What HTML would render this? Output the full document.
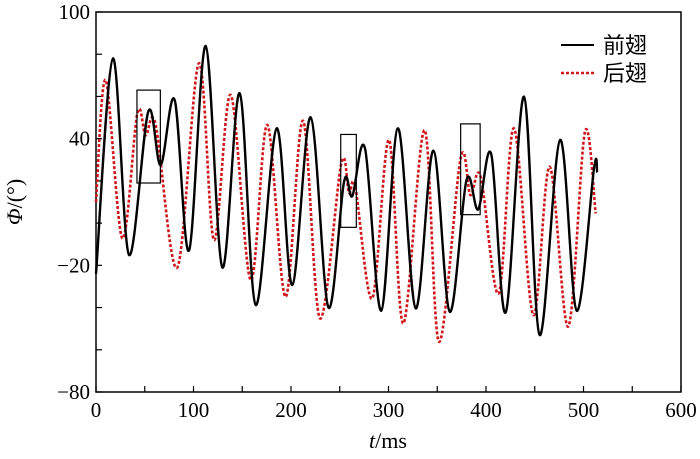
<!DOCTYPE html>
<html><head><meta charset="utf-8"><style>
body{margin:0;background:#fff;}
svg{display:block;font-family:"Liberation Serif","Noto Serif CJK SC",serif;}
</style></head><body>
<svg width="700" height="459" viewBox="0 0 700 459">
<g id="axes"></g>
<g id="series"></g>
<g id="boxes"></g>
<g>
<line x1="561" y1="45" x2="594" y2="45" stroke="#000" stroke-width="2"/>
<text x="603" y="53" font-size="22" font-family="'Noto Sans CJK SC',sans-serif">前翅</text>
<line x1="561" y1="73" x2="594" y2="73" stroke="#d0161a" stroke-width="2.5" stroke-dasharray="3,2"/>
<text x="603" y="81" font-size="22" font-family="'Noto Sans CJK SC',sans-serif">后翅</text>
</g>
<text x="388" y="448" font-size="22" text-anchor="middle"><tspan font-style="italic">t</tspan>/ms</text>
<text transform="translate(22,202) rotate(-90)" font-size="22" text-anchor="middle"><tspan font-style="italic">Φ</tspan>/(°)</text>
</svg>
<script>
const frontT=[0,17.4,33.8,53.6,66.3,80.7,95.4,112.5,129.6,147.4,163.8,185.3,201.3,220.2,238.3,254.4,262.9,275.9,292.6,309.7,327.9,346,362.8,380,392,405.4,420.2,439,455,476,493,510.8,514];
const frontV=[-24,78,-15,52.8,27.5,58.3,-13,83.9,-21,61.5,-38.8,44.9,-29.3,50.1,-39.9,19.6,12.8,35.4,-41.5,44.9,-40.4,34.3,-42,20.4,6.5,32.6,-42.3,59.9,-53,39.4,-41.5,26,24];
const hindT=[0,9.9,27,42.4,50.9,61.2,83.4,105.6,121,138.2,158.7,175.7,194.5,212.3,229.7,251.6,259.5,266,283.4,300.5,315.2,337,351.8,374,384,394.5,413,428.7,448.5,465.3,484.4,501.5,512.5];
const hindV=[10,67.8,-7.2,52,41.7,46.5,-21,75.7,-8,60.7,-27,46.5,-34.9,48.5,-45.1,28.3,14.3,17,-35.6,39.4,-47.5,44,-56.2,30.7,13.3,22,-33.3,44.9,-43.5,26.7,-49,43.3,4.6];
const xTicks=[0,100,200,300,400,500,600];
const yTicks=[100,40,-20,-80];
const boxT0=[42,251,374],boxT1=[66,267,394],boxV0=[19,-2,4],boxV1=[63,42,47];
const X0=96,X1=681,Y0=392,Y1=12;
const sx=t=>X0+(t/600)*(X1-X0);
const sy=v=>Y0-(v+80)/180*(Y0-Y1);
const NS='http://www.w3.org/2000/svg';
function mk(tag,attrs,parent){const e=document.createElementNS(NS,tag);for(const k in attrs)e.setAttribute(k,attrs[k]);parent.appendChild(e);return e;}
const ax=document.getElementById('axes');
const frame=mk('rect',{x:X0,y:Y1,width:X1-X0,height:Y0-Y1,fill:'none',stroke:'#000','stroke-width':1.5},ax);


for(let t=0;t<=600;t+=50){const l=mk('line',{x1:sx(t),x2:sx(t),y1:Y0,y2:Y0-6,stroke:'#000','stroke-width':1.2},ax);

}
for(let v=-80;v<=100;v+=20){const l=mk('line',{x1:X0,x2:X0+6,y1:sy(v),y2:sy(v),stroke:'#000','stroke-width':1.2},ax);

}
xTicks.forEach(t=>{const e=mk('text',{x:sx(t),y:Y0+25,'font-size':21,'text-anchor':'middle'},ax);e.textContent=t;

});
yTicks.forEach(v=>{const e=mk('text',{x:X0-6,y:sy(v)+7,'font-size':21,'text-anchor':'end'},ax);e.textContent=v<0?'−'+(-v):v;

});
function path(T,V){const p=T.map((t,i)=>[sx(t),sy(V[i])]);let d='M'+p[0][0]+','+p[0][1];
for(let i=0;i<p.length-1;i++){const a=p[Math.max(0,i-1)],b=p[i],c=p[i+1],e=p[Math.min(p.length-1,i+2)];
const c1x=b[0]+(c[0]-a[0])/6,c1y=b[1]+(c[1]-a[1])/6,c2x=c[0]-(e[0]-b[0])/6,c2y=c[1]-(e[1]-b[1])/6;
d+=` C${c1x},${c1y} ${c2x},${c2y} ${c[0]},${c[1]}`;}return d;}
const sg=document.getElementById('series');
const hp=mk('path',{d:path(hindT,hindV),fill:'none',stroke:'#d0161a','stroke-width':2.6,'stroke-dasharray':'3,2'},sg);


const fp=mk('path',{d:path(frontT,frontV),fill:'none',stroke:'#000','stroke-width':2.4},sg);


const bg=document.getElementById('boxes');
boxT0.forEach((t,i)=>{const r=mk('rect',{x:sx(t),y:sy(boxV1[i]),width:sx(boxT1[i])-sx(t),height:sy(boxV0[i])-sy(boxV1[i]),fill:'none',stroke:'#000','stroke-width':1.2},bg);

});
</script>
</body></html>
